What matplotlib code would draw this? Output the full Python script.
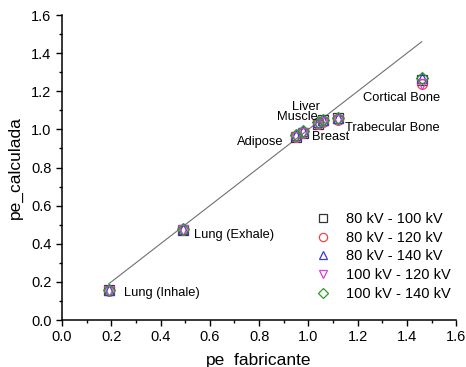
import numpy as np
import matplotlib.pyplot as plt

plt.rcParams["font.family"] = ["Liberation Sans", "DejaVu Sans"]
plt.rcParams["font.size"] = 10

tissues = ["Lung (Inhale)", "Lung (Exhale)", "Adipose", "Breast", "Muscle",
           "Liver", "Trabecular Bone", "Cortical Bone"]
pe_fabricante = [0.19, 0.49, 0.95, 0.98, 1.04, 1.06, 1.12, 1.46]

series_labels = ["80 kV - 100 kV", "80 kV - 120 kV", "80 kV - 140 kV",
                 "100 kV - 120 kV", "100 kV - 140 kV"]
pe_calc = {
    "80 kV - 100 kV":  [0.155, 0.47, 0.96, 0.98, 1.03, 1.05, 1.06, 1.26],
    "80 kV - 120 kV":  [0.150, 0.47, 0.96, 0.98, 1.03, 1.04, 1.05, 1.24],
    "80 kV - 140 kV":  [0.160, 0.48, 0.97, 0.99, 1.04, 1.05, 1.06, 1.27],
    "100 kV - 120 kV": [0.150, 0.47, 0.96, 0.98, 1.03, 1.04, 1.05, 1.24],
    "100 kV - 140 kV": [0.160, 0.48, 0.97, 0.99, 1.04, 1.05, 1.06, 1.27],
}
markers = ["s", "o", "^", "v", "D"]
colors = ["#333333", "#e8474c", "#3a3ad6", "#d83fd8", "#2e9a2e"]

line_x = [0.19, 1.46]

# label anchor positions (data units) and alignment
label_pos = {
    "Lung (Inhale)": (0.25, 0.142, "left"),
    "Lung (Exhale)": (0.535, 0.446, "left"),
    "Adipose": (0.90, 0.934, "right"),
    "Breast": (1.015, 0.96, "left"),
    "Muscle": (1.04, 1.065, "right"),
    "Liver": (0.99, 1.12, "center"),
    "Trabecular Bone": (1.34, 1.01, "center"),
    "Cortical Bone": (1.38, 1.165, "center"),
}

fig = plt.figure(figsize=(4.66, 3.67), dpi=100)
ax = fig.add_axes([0.133, 0.128, 0.846, 0.831])

ax.plot(line_x, line_x, color="#707070", lw=0.8, zorder=1)

for lab, m, c in zip(series_labels, markers, colors):
    ms = 7 if m != "D" else 6
    ax.plot(pe_fabricante, pe_calc[lab], ls="none", marker=m, ms=ms,
            mfc="none", mec=c, mew=0.9, label=lab, zorder=2)

for t in tissues:
    x, y, ha = label_pos[t]
    ax.text(x, y, t, ha=ha, va="center", fontsize=9.3)

ax.set_xlim(0, 1.6)
ax.set_ylim(0, 1.6)
ax.set_xticks(np.arange(0, 1.61, 0.2))
ax.set_yticks(np.arange(0, 1.61, 0.2))
ax.set_xticks(np.arange(0.1, 1.6, 0.2), minor=True)
ax.set_yticks(np.arange(0.1, 1.6, 0.2), minor=True)
ax.xaxis.set_major_formatter(plt.FormatStrFormatter("%.1f"))
ax.yaxis.set_major_formatter(plt.FormatStrFormatter("%.1f"))
ax.tick_params(which="major", direction="out", length=4, width=1, labelsize=10.5)
ax.tick_params(which="minor", direction="out", length=2.5, width=1)

ax.spines.right.set_visible(False)
ax.spines.top.set_visible(False)
ax.spines.left.set_linewidth(1.1)
ax.spines.bottom.set_linewidth(1.1)

ax.set_xlabel("pe_fabricante", fontsize=12.5, labelpad=6)
ax.set_ylabel("pe_calculada", fontsize=12.5, labelpad=6)

ax.legend(loc="lower right", frameon=False, fontsize=10.5, handletextpad=0.6,
          labelspacing=0.32, markerscale=0.85, bbox_to_anchor=(1.02, 0.02))

plt.savefig("out.png", dpi=100)
